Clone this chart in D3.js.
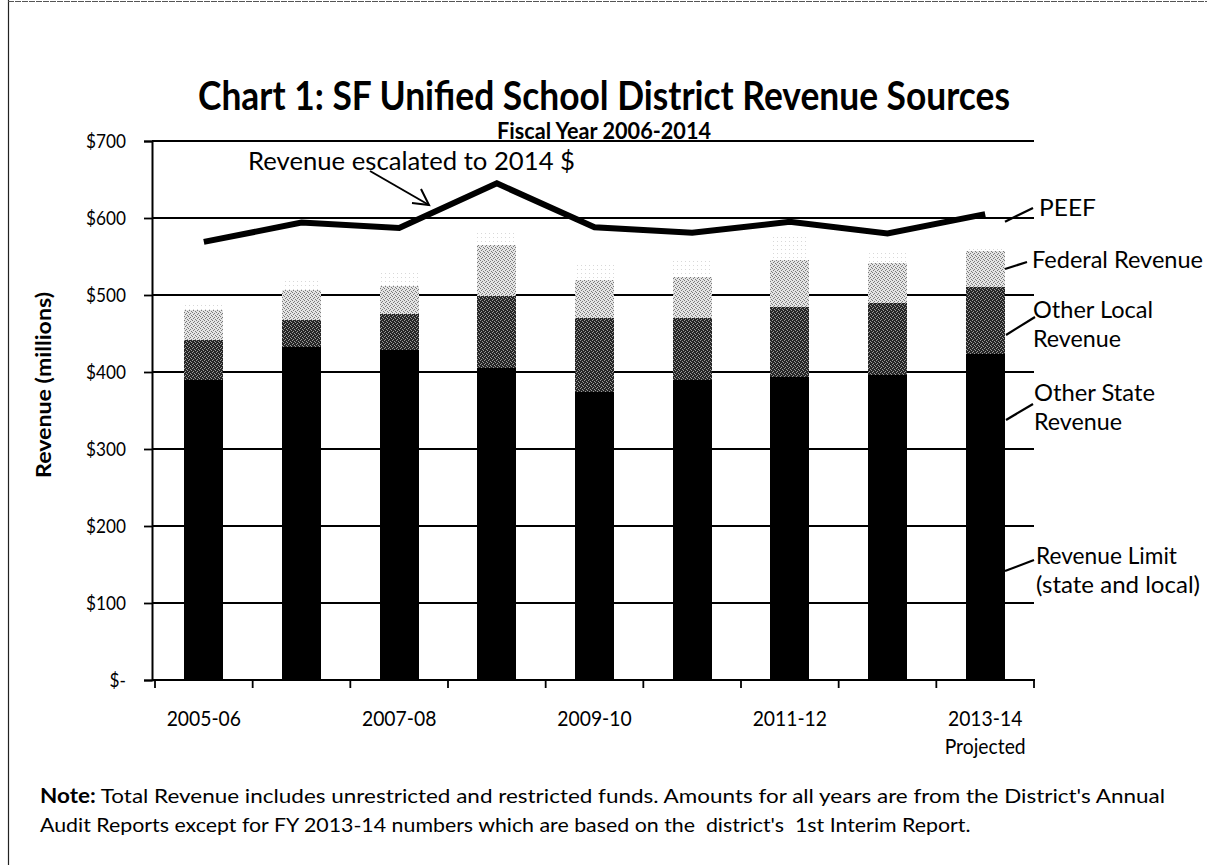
<!DOCTYPE html>
<html>
<head>
<meta charset="utf-8">
<script src="https://cdn.jsdelivr.net/npm/d3@7"></script>
<style>
  html, body { margin: 0; padding: 0; background: #fff; }
  svg { display: block; font-family: Lato, "Open Sans", sans-serif; }
</style>
</head>
<body>
<svg id="chart" width="1207" height="865"></svg>
<script>
// ---------------- data ----------------
const categories = ["2005-06","2006-07","2007-08","2008-09","2009-10","2010-11","2011-12","2012-13","2013-14"];
const tickLabels = ["2005-06","","2007-08","","2009-10","","2011-12","","2013-14|Projected"];
const revenueLimit      = [260, 285, 300, 280, 245, 250, 245, 240, 270];
const otherState        = [129, 147, 129, 125, 129, 140, 149, 156, 153];
const otherLocal        = [ 53,  35,  46,  94,  96,  80,  91,  94,  87];
const federalRevenue    = [ 39,  39,  37,  66,  50,  53,  61,  51,  47];
const peef              = [  6,  12,  20,  20,  20,  22,  29,  17,   6];
const escalated2014     = [569, 594, 587, 645, 588, 581, 595, 580, 605];
const yTicks = [0, 100, 200, 300, 400, 500, 600, 700];
const seriesKeys = ["Revenue Limit", "Other State Revenue", "Other Local Revenue", "Federal Revenue", "PEEF"];
const seriesValues = [revenueLimit, otherState, otherLocal, federalRevenue, peef];
const seriesFills = ["#000000", "#000000", "url(#patLocal)", "url(#patFed)", "url(#patPeef)"];

// ---------------- layout ----------------
const svg = d3.select("#chart");
const x0 = 155, x1 = 1034, yBottom = 680, yTop = 141;

const x = d3.scaleBand().domain(categories).range([x0, x1]).paddingInner(0.6).paddingOuter(0.3);
const y = d3.scaleLinear().domain([0, 700]).range([yBottom, yTop]);
const step = x.step();

function squeeze(sel, target) {
  sel.attr("textLength", target).attr("lengthAdjust", "spacingAndGlyphs");
}
function squeezeBy(sel, factor) {
  sel.each(function() {
    const w = this.getComputedTextLength();
    d3.select(this).attr("textLength", (w * factor).toFixed(1)).attr("lengthAdjust", "spacingAndGlyphs");
  });
}

// patterns (speckle texture of the scanned fills)
const defs = svg.append("defs");
function pattern(id, bg, fg, pts) {
  const p = defs.append("pattern").attr("id", id).attr("patternUnits", "userSpaceOnUse")
    .attr("width", 4).attr("height", 4);
  p.append("rect").attr("width", 4).attr("height", 4).attr("fill", bg);
  pts.forEach(([a, b]) => p.append("rect").attr("x", a).attr("y", b).attr("width", 1).attr("height", 1).attr("fill", fg));
}
pattern("patLocal", "#262626", "#9a9a9a", [[0,0],[2,1],[1,3],[3,2]]);
pattern("patFed", "#e4e4e4", "#7a7a7a", [[0,0],[2,1],[1,2],[3,3]]);
pattern("patPeef", "#ffffff", "#d8d8d8", [[1,1]]);

// frame
svg.append("line").attr("x1", 8.5).attr("x2", 8.5).attr("y1", 0).attr("y2", 865).attr("stroke", "#222").attr("stroke-width", 1.2);
svg.append("line").attr("x1", 8).attr("x2", 1207).attr("y1", 1.5).attr("y2", 1.5).attr("stroke", "#555").attr("stroke-width", 1).attr("stroke-dasharray", "6,1");

// title
const title = svg.append("text").attr("x", 604).attr("y", 110).attr("text-anchor", "middle")
  .attr("font-weight", "bold").attr("font-size", 40).attr("fill", "#000")
  .text("Chart 1: SF Unified School District Revenue Sources");
squeeze(title, 812);
const sub = svg.append("text").attr("x", 604).attr("y", 139).attr("text-anchor", "middle")
  .attr("font-weight", "bold").attr("font-size", 22).attr("fill", "#000")
  .text("Fiscal Year 2006-2014");
squeeze(sub, 214);

// gridlines
svg.append("g").selectAll("line").data(yTicks.filter(d => d > 0)).join("line")
  .attr("x1", x0 - 3).attr("x2", x1).attr("y1", d => y(d)).attr("y2", d => y(d))
  .attr("stroke", "#000").attr("stroke-width", 1.8);

// y axis
const yAxis = d3.axisLeft(y).tickValues(yTicks).tickSize(8).tickPadding(18)
  .tickFormat(d => d === 0 ? "$-" : "$" + d);
const gy = svg.append("g").attr("transform", `translate(${x0 - 3},0)`).call(yAxis);
gy.select(".domain").attr("stroke", "#000").attr("stroke-width", 2);
gy.selectAll(".tick line").attr("stroke", "#000").attr("stroke-width", 1.8);
gy.selectAll(".tick text").attr("font-size", 20).attr("font-family", "Lato").attr("fill", "#000");
squeezeBy(gy.selectAll(".tick text"), 0.86);

const yTitle = svg.append("text").attr("transform", "translate(51,385) rotate(-90)")
  .attr("text-anchor", "middle").attr("font-weight", "bold").attr("font-size", 20).attr("fill", "#000")
  .text("Revenue (millions)");
squeeze(yTitle, 186);

// stacked bars
const stackData = categories.map((c, i) => {
  const o = { cat: c };
  seriesKeys.forEach((k, j) => o[k] = seriesValues[j][i]);
  return o;
});
const stacked = d3.stack().keys(seriesKeys)(stackData);
svg.append("g").attr("shape-rendering", "crispEdges").selectAll("g").data(stacked).join("g")
  .attr("fill", (d, i) => seriesFills[i])
  .selectAll("rect").data(d => d).join("rect")
  .attr("x", d => x(d.data.cat))
  .attr("width", x.bandwidth())
  .attr("y", d => y(d[1]))
  .attr("height", d => y(d[0]) - y(d[1]));

// x axis
svg.append("line").attr("x1", x0 - 3).attr("x2", x1 + 1).attr("y1", yBottom).attr("y2", yBottom)
  .attr("stroke", "#000").attr("stroke-width", 2);
const bounds = categories.map(c => x(c) - (step - x.bandwidth()) / 2).concat([x(categories[8]) + x.bandwidth() + (step - x.bandwidth()) / 2]);
svg.append("g").selectAll("line").data(bounds).join("line")
  .attr("x1", d => d).attr("x2", d => d).attr("y1", yBottom).attr("y2", yBottom + 8)
  .attr("stroke", "#000").attr("stroke-width", 1.8);
const xl = svg.append("g").selectAll("text").data(categories).join("text")
  .attr("x", d => x(d) + x.bandwidth() / 2).attr("y", 726)
  .attr("text-anchor", "middle").attr("font-size", 21).attr("fill", "#000");
xl.each(function(d, i) {
  const parts = tickLabels[i].split("|");
  const t = d3.select(this);
  parts.forEach((p, k) => {
    t.append("tspan").attr("x", x(d) + x.bandwidth() / 2).attr("dy", k === 0 ? 0 : 28).text(p);
  });
});
squeezeBy(xl.selectAll("tspan"), 0.92);

// escalated line
const line = d3.line().x((d, i) => x(categories[i]) + x.bandwidth() / 2).y(d => y(d));
svg.append("path").datum(escalated2014).attr("d", line)
  .attr("fill", "none").attr("stroke", "#000").attr("stroke-width", 6)
  .attr("stroke-linejoin", "miter").attr("stroke-linecap", "butt");

// annotation
const ann = svg.append("text").attr("x", 248).attr("y", 170).attr("font-size", 25).attr("fill", "#000")
  .text("Revenue escalated to 2014 $");
squeeze(ann, 327);
svg.append("line").attr("x1", 370).attr("y1", 171).attr("x2", 429).attr("y2", 205)
  .attr("stroke", "#000").attr("stroke-width", 2);
svg.append("path").attr("d", "M412,203 L429,205 L421,189").attr("fill", "none")
  .attr("stroke", "#000").attr("stroke-width", 2);

// right-side labels
const rl = [
  { lines: ["PEEF"], w: [57], x: 1039, y: 216, lead: [1005, 221.7, 1033, 208] },
  { lines: ["Federal Revenue"], w: [171], x: 1032, y: 268, lead: [1005, 269, 1027, 262] },
  { lines: ["Other Local", "Revenue"], w: [120, 88], x: 1033, y: 318, lead: [1006, 335, 1035, 317] },
  { lines: ["Other State", "Revenue"], w: [121, 88], x: 1034, y: 401, lead: [1006, 420, 1033, 404] },
  { lines: ["Revenue Limit", "(state and local)"], w: [141, 164], x: 1036, y: 564, lead: [1005, 571, 1034, 560] }
];
rl.forEach(r => {
  const t = svg.append("text").attr("x", r.x).attr("y", r.y).attr("font-size", 23).attr("fill", "#000");
  r.lines.forEach((p, k) => {
    const ts = t.append("tspan").attr("x", r.x).attr("dy", k === 0 ? 0 : 29).text(p);
    squeeze(ts, r.w[k]);
  });
  svg.append("line").attr("x1", r.lead[0]).attr("y1", r.lead[1]).attr("x2", r.lead[2]).attr("y2", r.lead[3])
    .attr("stroke", "#000").attr("stroke-width", 2.2);
});

// note
const n1 = svg.append("text").attr("x", 40).attr("y", 803).attr("font-size", 20).attr("fill", "#000");
const nb = n1.append("tspan").attr("font-weight", "bold").text("Note:");
const nr = n1.append("tspan").text(" Total Revenue includes unrestricted and restricted funds. Amounts for all years are from the District's Annual");
const w1 = n1.node().getComputedTextLength();
const f = 1125 / w1;
squeezeBy(nb, f);
squeezeBy(nr, f);
const n2 = svg.append("text").attr("x", 40).attr("y", 832).attr("font-size", 20).attr("fill", "#000")
  .attr("xml:space", "preserve")
  .text("Audit Reports except for FY 2013-14 numbers which are based on the  district's  1st Interim Report.");
squeezeBy(n2, f * 0.95);
</script>
</body>
</html>
